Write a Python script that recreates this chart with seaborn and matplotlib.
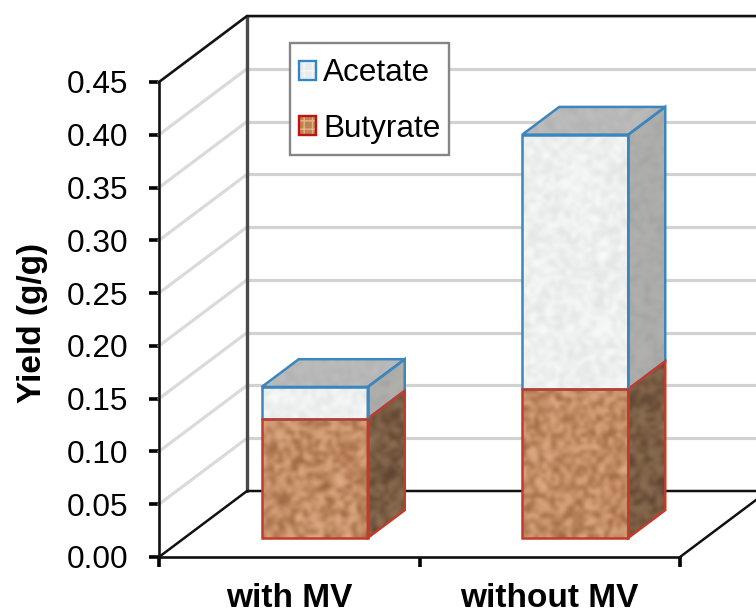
import numpy as np
import pandas as pd
import matplotlib
matplotlib.use("Agg")
import matplotlib.pyplot as plt
import seaborn as sns
from matplotlib.colors import LinearSegmentedColormap
from matplotlib.legend_handler import HandlerTuple
from matplotlib.patches import Patch, Polygon, Rectangle

categories = ["with MV", "without MV"]
butyrate = [0.113, 0.141]
acetate = [0.030, 0.241]
y_ticks = [0.00, 0.05, 0.10, 0.15, 0.20, 0.25, 0.30, 0.35, 0.40, 0.45]

# pretend 3d: how far the back wall is moved from the front plane, in data units
depth_x = 88 / 260.5
depth_y = 66 / 1055.6
bar_front = 0.29
bar_back = 0.71
bar_width = 0.407

sand = LinearSegmentedColormap.from_list("sand", ["#96633f", "#b67f57", "#cf9a73", "#e0b08c"])
sand_side = LinearSegmentedColormap.from_list("sand_side", ["#5a4230", "#7a5c42", "#8f7559"])
marble = LinearSegmentedColormap.from_list("marble", ["#e0e3e3", "#eef0f0", "#fbfbfb"])
grey_side = LinearSegmentedColormap.from_list("grey_side", ["#a2a2a0", "#acacaa", "#b4b2ae"])
grey_top = LinearSegmentedColormap.from_list("grey_top", ["#b0b0b0", "#b8b8b8", "#c0c0c0"])

red = "#c23b2a"
blue = "#3c86bd"

sns.set_style("white", {"text.color": "black", "axes.labelcolor": "black",
                        "xtick.color": "black", "ytick.color": "black"})
plt.rcParams["font.family"] = ["Liberation Sans", "DejaVu Sans"]

df = pd.DataFrame({"group": categories, "Acetate": acetate, "Butyrate": butyrate})
df["total"] = df["Acetate"] + df["Butyrate"]

W, H = 756, 614
fig = plt.figure(figsize=(W / 100, H / 100), dpi=100)
ax = fig.add_axes([159 / W, 1 - 557 / H, 521 / W, 475 / H])

sns.barplot(data=df, x="group", y="total", color="white", width=bar_width, saturation=1, ax=ax)
sns.barplot(data=df, x="group", y="Butyrate", color="white", width=bar_width, saturation=1, ax=ax)
ax.set_xlim(-0.5, 1.5)
ax.set_ylim(0, 0.45)


def grain(rows, cols, seed):
    # hashed grid for the stone look, the imshow smoothing does the rest
    yy, xx = np.mgrid[0:rows, 0:cols]
    v = np.sin(xx * 12.9898 + yy * 78.233 + seed) * 43758.5453
    return v - np.floor(v)


def skew(x, y, d):
    return x + d * depth_x, y + d * depth_y


def textured(points, cmap, seed):
    pts = np.array(points)
    box = [pts[:, 0].min(), pts[:, 0].max(), pts[:, 1].min(), pts[:, 1].max()]
    px_w = (box[1] - box[0]) * 260.5
    px_h = (box[3] - box[2]) * 1055.6
    tex = grain(max(int(px_h / 4), 2), max(int(px_w / 4), 2), seed)
    im = ax.imshow(tex, extent=box, aspect="auto", cmap=cmap, interpolation="bicubic",
                   zorder=3, vmin=0, vmax=1, clip_on=True)
    im.set_clip_path(Polygon(pts, transform=ax.transData))


def box_faces(x0, x1, y0, y1, edge, front_map, side_map, top_map, seed):
    fl = skew(x0, y0, bar_front)
    fr = skew(x1, y0, bar_front)
    tl = skew(x0, y1, bar_front)
    tr = skew(x1, y1, bar_front)
    br = skew(x1, y0, bar_back)
    bt = skew(x1, y1, bar_back)
    bl = skew(x0, y1, bar_back)
    textured([fl, fr, tr, tl], front_map, seed)
    textured([fr, br, bt, tr], side_map, seed + 1)
    ax.add_patch(Polygon([fr, br, bt, tr], fill=False, edgecolor=edge, lw=1.8, zorder=4))
    if top_map is not None:
        textured([tl, tr, bt, bl], top_map, seed + 2)
        ax.add_patch(Polygon([tl, tr, bt, bl], fill=False, edgecolor=edge, lw=1.8, zorder=4))
    ax.add_patch(Polygon([fl, fr, tr, tl], fill=False, edgecolor=edge, lw=1.8, zorder=5))


# seaborn made the front faces, use them to build the boxes
total_bars = ax.containers[0]
butyrate_bars = ax.containers[1]
for i, (t, b) in enumerate(zip(total_bars, butyrate_bars)):
    t.set_visible(False)
    b.set_visible(False)
    x0 = b.get_x()
    x1 = x0 + b.get_width()
    box_faces(x0, x1, b.get_height(), t.get_height(), blue, marble, grey_side, grey_top, 3 + i * 7)
    box_faces(x0, x1, 0, b.get_height(), red, sand, sand_side, None, 31 + i * 5)
ax.set_xlim(-0.5, 1.5)
ax.set_ylim(0, 0.45)

# walls and floor
for v in y_ticks[1:]:
    x1, y1 = skew(-0.5, v, 1)
    x2, y2 = skew(1.5, v, 1)
    ax.plot([-0.5, x1], [v, y1], color="#dadada", lw=2.3, clip_on=False, zorder=1)
    ax.plot([x1, x2], [y1, y2], color="#d2d2d2", lw=2.3, clip_on=False, zorder=1)

x_b, y_b = skew(-0.5, 0, 1)
x_t, y_t = skew(-0.5, 0.45, 1)
x_r, y_r = skew(1.5, 0, 1)
x_rt, y_rt = skew(1.5, 0.45, 1)
ax.plot([x_b, x_t], [y_b, y_t], color="#4a4a4a", lw=2.4, clip_on=False, zorder=2)
ax.plot([-0.5, x_b, x_r, 1.5], [0, y_b, y_r, 0], color="#111111", lw=1.8, clip_on=False, zorder=2)
ax.plot([-0.5, x_t, x_rt], [0.45, y_t, y_rt], color="#111111", lw=1.8, clip_on=False, zorder=2)

sns.despine(ax=ax, top=True, right=True)
for side in ["left", "bottom"]:
    ax.spines[side].set_linewidth(1.9)
    ax.spines[side].set_color("#111111")
    ax.spines[side].set_zorder(6)

ax.set_yticks(y_ticks)
ax.set_yticklabels([f"{v:.2f}" for v in y_ticks], fontsize=22.7)
ax.set_xticks([-0.5, 0.5, 1.5])
ax.set_xticklabels([])
ax.set_xticks([0, 1], categories, minor=True, fontsize=24, fontweight="bold")
ax.tick_params(axis="both", which="major", length=7, width=2.6, color="black", left=True, bottom=True)
ax.tick_params(axis="y", pad=15)
ax.tick_params(axis="x", which="minor", length=0, pad=18.5)
ax.set_xlabel("")
ax.set_ylabel("Yield (g/g)", fontsize=24, fontweight="bold")
ax.yaxis.set_label_coords((48 - 159) / 521, (557 - 323) / 475)

handles = [
    (Patch(facecolor="#e9ebeb", edgecolor="#f6f6f6", hatch="++", lw=0),
     Patch(fill=False, edgecolor="#2f86c8", lw=1.7)),
    (Patch(facecolor="#bd8350", edgecolor="#e3b48c", hatch="++", lw=0),
     Patch(fill=False, edgecolor="#c4120f", lw=1.7)),
]
# frame drawn apart, the legend's own padding can't do uneven sides
ax.add_patch(Rectangle((290 / W, 1 - 155 / H), 159 / W, 112 / H, transform=fig.transFigure,
                       facecolor="white", edgecolor="#858585", lw=1.7, clip_on=False, zorder=9))
leg = ax.legend(handles, ["Acetate", "Butyrate"], handler_map={tuple: HandlerTuple(ndivide=1, pad=0)},
                loc="upper left", bbox_to_anchor=(290 / W, 1 - 49 / H), bbox_transform=fig.transFigure,
                borderaxespad=0, fontsize=22.7, frameon=False, handlelength=0.54, handleheight=0.54,
                handletextpad=0.22, labelspacing=0.81, borderpad=0.3)
leg.set_zorder(10)

fig.savefig("out.png", dpi=100)
